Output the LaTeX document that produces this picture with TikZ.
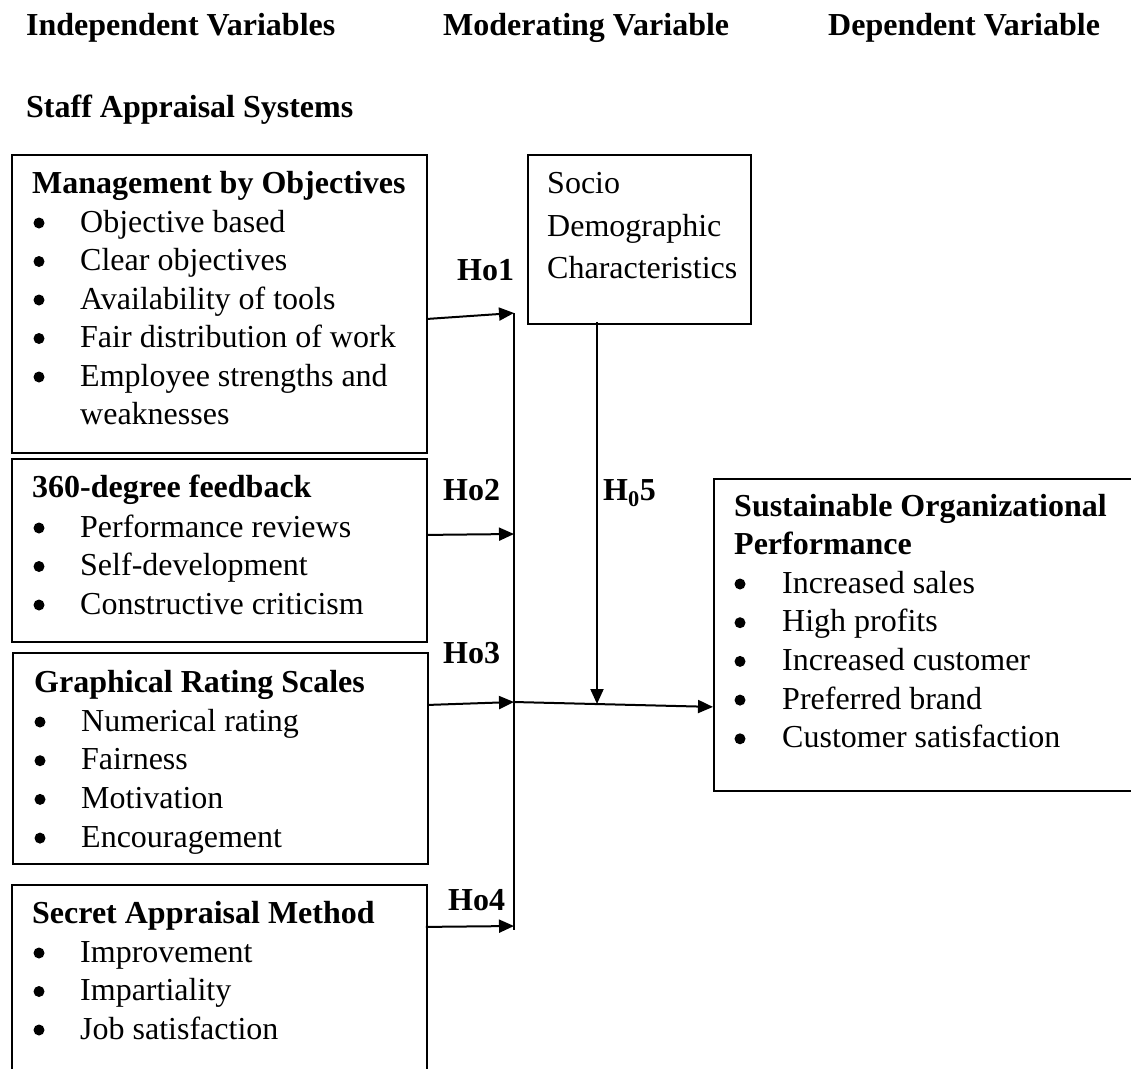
\documentclass[tikz,border=0pt]{standalone}
\usepackage{fontspec}
\setmainfont{Liberation Serif}
\usepackage{tikz}
\usetikzlibrary{arrows.meta, positioning}
\newcommand{\linecolor}{black}
\newcommand{\textsize}{\fontsize{32}{38.5}\selectfont}

\begin{document}
\begin{tikzpicture}[
      x=1pt, y=-1pt,
      % GLOBAL CFG
      >={Triangle[length=15pt,width=13pt]},
      % Styles
      var/.style={% For the variable boxes
        rectangle,
        draw=\linecolor,
        line width=1.8pt,
        anchor=north west,
        inner sep=0pt
      },
      head/.style={% Bold headings and box titles
        anchor=base west,
        inner sep=0pt,
        font=\textsize\bfseries
      },
      item/.style={% Entries of the lists
        anchor=base west,
        inner sep=0pt,
        font=\textsize
      },
      arrowhyp/.style={% Arrows for the hypotheses
        draw=\linecolor,
        line width=2pt,
        ->
      },
      busline/.style={% The collecting line
        draw=\linecolor,
        line width=2pt
      }
      ]
      \path [use as bounding box, clip] (0,0) rectangle (1131,1068);

      % Column headings
      \node [head] (indep) at (26,35) {Independent Variables};
      \node [head] (moder) at (443,35) {Moderating Variable};
      \node [head] (depen) at (828,35) {Dependent Variable};
      \node [head] (staff) at (26,117) {Staff Appraisal Systems};

      % Management by objectives
      \node [var, minimum width=415pt, minimum height=298pt] (mbo) at (11,154) {};
      \node [head] (mbo-title) at (32,193) {Management by Objectives};
      \foreach \txt [count=\i] in {Objective based, Clear objectives, Availability of tools, Fair distribution of work, Employee strengths and} {
        \node [item] (mbo-\i) at (80,{232+(\i-1)*38.5}) {\txt};
        \fill ([xshift=-41pt,yshift=9pt]mbo-\i.base west) circle[radius=5.5pt];
      }
      \node [item] (mbo-6) at (80,424) {weaknesses};

      % 360-degree feedback
      \node [var, minimum width=415pt, minimum height=183pt] (fb) at (11,458) {};
      \node [head] (fb-title) at (32,497) {360-degree feedback};
      \foreach \txt [count=\i] in {Performance reviews, Self-development, Constructive criticism} {
        \node [item] (fb-\i) at (80,{537+(\i-1)*38.5}) {\txt};
        \fill ([xshift=-41pt,yshift=9pt]fb-\i.base west) circle[radius=5.5pt];
      }

      % Graphical rating scales
      \node [var, minimum width=415pt, minimum height=211pt] (grs) at (12,652) {};
      \node [head] (grs-title) at (34,692) {Graphical Rating Scales};
      \foreach \txt [count=\i] in {Numerical rating, Fairness, Motivation, Encouragement} {
        \node [item] (grs-\i) at (81,{731+(\i-1)*38.7}) {\txt};
        \fill ([xshift=-41pt,yshift=9pt]grs-\i.base west) circle[radius=5.5pt];
      }

      % Secret appraisal method
      \node [var, minimum width=415pt, minimum height=220pt] (sam) at (11,884) {};
      \node [head] (sam-title) at (32,923) {Secret Appraisal Method};
      \foreach \txt [count=\i] in {Improvement, Impartiality, Job satisfaction} {
        \node [item] (sam-\i) at (80,{962+(\i-1)*38.5}) {\txt};
        \fill ([xshift=-41pt,yshift=9pt]sam-\i.base west) circle[radius=5.5pt];
      }

      % Moderating variable
      \node [var, minimum width=223pt, minimum height=169pt] (mod) at (527,154) {};
      \node [item] (mod-1) at (547,193) {Socio};
      \node [item] (mod-2) at (547,236) {Demographic};
      \node [item] (mod-3) at (547,278) {Characteristics};

      % Dependent variable
      \node [var, minimum width=430pt, minimum height=312pt] (dv) at (713,478) {};
      \node [head] (dv-title) at (734,516) {Sustainable Organizational};
      \node [head] (dv-title2) at (734,554) {Performance};
      \foreach \txt [count=\i] in {Increased sales, High profits, Increased customer, Preferred brand, Customer satisfaction} {
        \node [item] (dv-\i) at (782,{593+(\i-1)*38.7}) {\txt};
        \fill ([xshift=-42pt,yshift=9pt]dv-\i.base west) circle[radius=5.5pt];
      }

      % Hypotheses
      \node [head] (ho1) at (457,280) {Ho1};
      \node [head] (ho2) at (443,500) {Ho2};
      \node [head] (ho3) at (443,663) {Ho3};
      \node [head] (ho4) at (448,910) {Ho4};
      \node [head] (ho5) at (603,500) {H\textsubscript{0}5};

      % Collecting line and joints
      \coordinate (bus-top) at (514,313);
      \coordinate (bus-2) at (514,534);
      \coordinate (bus-3) at (514,702);
      \coordinate (bus-4) at (514,926);
      \coordinate (bus-bot) at (514,930);
      \coordinate (mod-in) at (597,704);
      \draw [busline] (bus-top) -- (bus-bot);

      \draw [arrowhyp] ([yshift=-15pt]mbo.east) -- (bus-top);
      \draw [arrowhyp] ([yshift=15.5pt]fb.east) -- (bus-2);
      \draw [arrowhyp] ([yshift=53.5pt]grs.east) -- (bus-3);
      \draw [arrowhyp] ([xshift=-2pt,yshift=68pt]sam.east) -- (bus-4);
      \draw [arrowhyp] ([yshift=3pt]mod.south -| mod-in) -- (mod-in);
      \draw [arrowhyp] (bus-3) -- ([yshift=-72pt]dv.west);

    \end{tikzpicture}
\end{document}
